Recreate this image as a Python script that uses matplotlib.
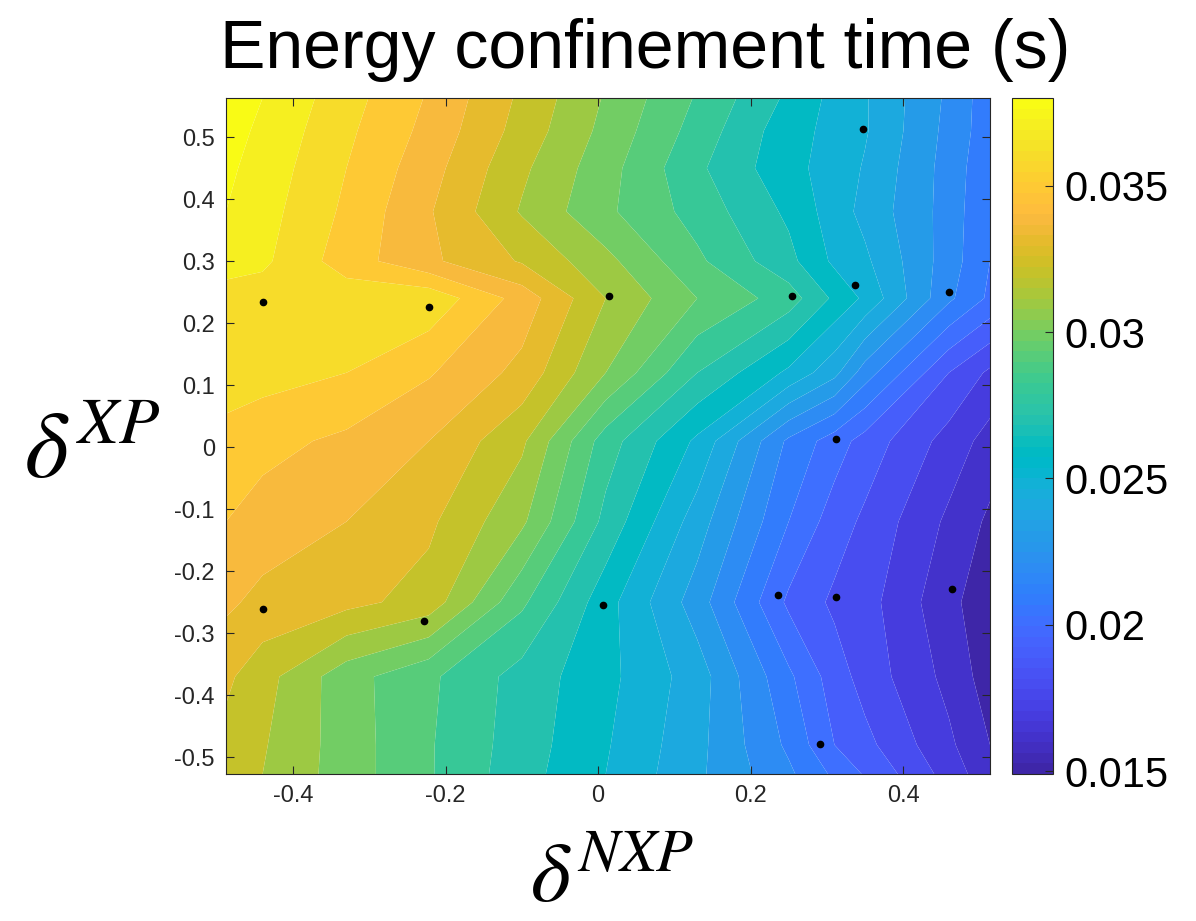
import numpy as np
import matplotlib
matplotlib.use('Agg')
import matplotlib.pyplot as plt
from matplotlib.colors import ListedColormap, Normalize
from matplotlib.cm import ScalarMappable

plt.rcParams['font.family'] = ['Liberation Sans', 'DejaVu Sans']
plt.rcParams['mathtext.fontset'] = 'stix'
plt.rcParams['axes.unicode_minus'] = False

# grid nodes (delta_NXP across, delta_XP up) and tau_E
x_nodes = [-0.488, -0.44, -0.33, -0.222, -0.10, 0.01, 0.13, 0.25, 0.31, 0.35, 0.46, 0.514]
y_nodes = [-0.527, -0.48, -0.37, -0.25, -0.12, 0.01, 0.12, 0.24, 0.30, 0.38, 0.45, 0.51, 0.563]
tau_rows = [
    [0.0325, 0.0320, 0.0305, 0.0291, 0.0274, 0.0260, 0.0242, 0.0222, 0.0208, 0.0199, 0.0176, 0.0163],
    [0.0327, 0.0321, 0.0305, 0.0291, 0.0275, 0.0261, 0.0243, 0.0218, 0.0200, 0.0193, 0.0172, 0.0160],
    [0.0332, 0.0324, 0.0304, 0.0292, 0.0276, 0.0263, 0.0245, 0.0212, 0.0195, 0.0186, 0.0167, 0.0155],
    [0.0342, 0.0337, 0.0333, 0.0326, 0.0292, 0.0264, 0.0235, 0.0198, 0.0188, 0.0184, 0.0163, 0.0153],
    [0.0350, 0.0346, 0.0340, 0.0332, 0.0312, 0.0277, 0.0245, 0.0210, 0.0195, 0.0188, 0.0168, 0.0158],
    [0.0356, 0.0353, 0.0348, 0.0340, 0.0322, 0.0285, 0.0258, 0.0218, 0.0205, 0.0196, 0.0176, 0.0166],
    [0.0366, 0.0364, 0.0360, 0.0351, 0.0337, 0.0310, 0.0280, 0.0258, 0.0243, 0.0225, 0.0190, 0.0178],
    [0.0367, 0.0365, 0.0366, 0.0367, 0.0346, 0.0320, 0.0300, 0.0285, 0.0268, 0.0258, 0.0222, 0.0208],
    [0.0373, 0.0372, 0.0355, 0.0342, 0.0329, 0.0313, 0.0292, 0.0273, 0.0258, 0.0252, 0.0225, 0.0210],
    [0.0380, 0.0374, 0.0358, 0.0341, 0.0319, 0.0302, 0.0286, 0.0268, 0.0255, 0.0247, 0.0226, 0.0210],
    [0.0382, 0.0376, 0.0360, 0.0344, 0.0322, 0.0304, 0.0282, 0.0263, 0.0256, 0.0249, 0.0226, 0.0212],
    [0.0384, 0.0378, 0.0362, 0.0347, 0.0326, 0.0307, 0.0286, 0.0264, 0.0257, 0.0251, 0.0227, 0.0214],
    [0.0386, 0.0380, 0.0364, 0.0349, 0.0328, 0.0309, 0.0289, 0.0268, 0.0257, 0.0251, 0.0228, 0.0214],
]

# simulation points
pts_x = [-0.439, -0.222, 0.014, 0.254, 0.337, 0.460, 0.348, 0.312,
         -0.439, -0.228, 0.007, 0.236, 0.312, 0.464, 0.291]
pts_y = [0.234, 0.226, 0.244, 0.244, 0.261, 0.250, 0.513, 0.013,
         -0.261, -0.281, -0.255, -0.239, -0.242, -0.228, -0.479]

levels = [0.014, 0.015, 0.016, 0.017, 0.018, 0.019, 0.020, 0.021, 0.022, 0.023,
          0.024, 0.025, 0.026, 0.027, 0.028, 0.029, 0.030, 0.031, 0.032, 0.033,
          0.034, 0.035, 0.036, 0.037, 0.038, 0.039]
cbar_ticks = [0.015, 0.02, 0.025, 0.03, 0.035]
cbar_labels = ['0.015', '0.02', '0.025', '0.03', '0.035']
x_ticks = [-0.4, -0.2, 0, 0.2, 0.4]
y_ticks = [-0.5, -0.4, -0.3, -0.2, -0.1, 0, 0.1, 0.2, 0.3, 0.4, 0.5]

# MATLAB parula
PARULA = [
    [0.2422, 0.1504, 0.6603], [0.2504, 0.1650, 0.7076], [0.2578, 0.1818, 0.7511], [0.2647, 0.1978, 0.7952],
    [0.2706, 0.2147, 0.8364], [0.2751, 0.2342, 0.8710], [0.2783, 0.2559, 0.8991], [0.2803, 0.2782, 0.9221],
    [0.2813, 0.3006, 0.9414], [0.2810, 0.3228, 0.9579], [0.2795, 0.3447, 0.9717], [0.2760, 0.3667, 0.9829],
    [0.2699, 0.3892, 0.9906], [0.2602, 0.4123, 0.9952], [0.2440, 0.4358, 0.9988], [0.2206, 0.4603, 0.9973],
    [0.1963, 0.4847, 0.9892], [0.1834, 0.5074, 0.9798], [0.1786, 0.5289, 0.9682], [0.1764, 0.5499, 0.9520],
    [0.1687, 0.5703, 0.9359], [0.1540, 0.5902, 0.9218], [0.1460, 0.6091, 0.9079], [0.1380, 0.6276, 0.8973],
    [0.1248, 0.6459, 0.8883], [0.1113, 0.6635, 0.8763], [0.0952, 0.6798, 0.8598], [0.0689, 0.6948, 0.8394],
    [0.0297, 0.7082, 0.8163], [0.0036, 0.7203, 0.7917], [0.0067, 0.7312, 0.7660], [0.0433, 0.7411, 0.7394],
    [0.0964, 0.7500, 0.7120], [0.1408, 0.7584, 0.6842], [0.1717, 0.7670, 0.6554], [0.1938, 0.7758, 0.6251],
    [0.2161, 0.7843, 0.5923], [0.2470, 0.7918, 0.5567], [0.2906, 0.7973, 0.5188], [0.3406, 0.8008, 0.4789],
    [0.3909, 0.8029, 0.4354], [0.4456, 0.8024, 0.3909], [0.5044, 0.7993, 0.3480], [0.5616, 0.7942, 0.3045],
    [0.6174, 0.7876, 0.2612], [0.6720, 0.7793, 0.2227], [0.7242, 0.7698, 0.1910], [0.7738, 0.7598, 0.1646],
    [0.8203, 0.7498, 0.1535], [0.8634, 0.7406, 0.1596], [0.9035, 0.7330, 0.1774], [0.9393, 0.7288, 0.2100],
    [0.9728, 0.7298, 0.2394], [0.9956, 0.7434, 0.2371], [0.9970, 0.7659, 0.2199], [0.9952, 0.7893, 0.2028],
    [0.9892, 0.8136, 0.1885], [0.9786, 0.8386, 0.1766], [0.9676, 0.8639, 0.1643], [0.9610, 0.8890, 0.1537],
    [0.9597, 0.9135, 0.1423], [0.9628, 0.9373, 0.1265], [0.9691, 0.9606, 0.1064], [0.9769, 0.9839, 0.0805],
]
parula = ListedColormap(PARULA, name='parula').resampled(256)
norm = Normalize(vmin=0.0149, vmax=0.0380)

W, H = 1196, 921
fig = plt.figure(figsize=(W / 100, H / 100), dpi=100)
fig.patch.set_facecolor('white')

ax = fig.add_axes([226 / W, 1 - 774 / H, (990 - 226) / W, (774 - 98) / H])
X, Y = np.meshgrid(x_nodes, y_nodes)
Z = np.array(tau_rows)
band_colors = [parula(norm(lv)) for lv in levels[:-1]]   # MATLAB fills with lower level colour
ax.contourf(X, Y, Z, levels=levels, colors=band_colors, antialiased=True)
ax.plot(pts_x, pts_y, 'o', color='black', ms=4.5, zorder=5)

ax.set_xlim(-0.488, 0.514)
ax.set_ylim(-0.527, 0.563)
ax.set_xticks(x_ticks)
ax.set_xticklabels(['-0.4', '-0.2', '0', '0.2', '0.4'])
ax.set_yticks(y_ticks)
ax.set_yticklabels(['-0.5', '-0.4', '-0.3', '-0.2', '-0.1', '0', '0.1', '0.2', '0.3', '0.4', '0.5'])
ax.tick_params(direction='in', top=True, right=True, length=6, width=0.8,
               color='#262626', labelcolor='#262626', labelsize=17, pad=8)
for sp in ax.spines.values():
    sp.set_color('#262626')
    sp.set_linewidth(0.8)

# colorbar
cax = fig.add_axes([1012 / W, 1 - 774 / H, (1053 - 1012) / W, (774 - 98) / H])
cb = fig.colorbar(ScalarMappable(norm=norm, cmap=parula), cax=cax)
cb.set_ticks(cbar_ticks)
cb.set_ticklabels(cbar_labels)
cb.outline.set_edgecolor('#262626')
cb.outline.set_linewidth(0.8)
cax.tick_params(direction='in', length=6, width=0.8, color='#262626',
                labelsize=30, labelcolor='black', pad=8)

fig.text(645 / W, 1 - 68 / H, 'Energy confinement time (s)', fontsize=49,
         ha='center', va='baseline', color='black')
fig.text(612 / W, 1 - 902 / H, r'$\delta^{NXP}$', fontsize=62,
         ha='center', va='baseline')
fig.text(24 / W, 1 - 477 / H, r'$\delta^{XP}$', fontsize=68,
         ha='left', va='baseline')

fig.savefig('out.png', dpi=100)
